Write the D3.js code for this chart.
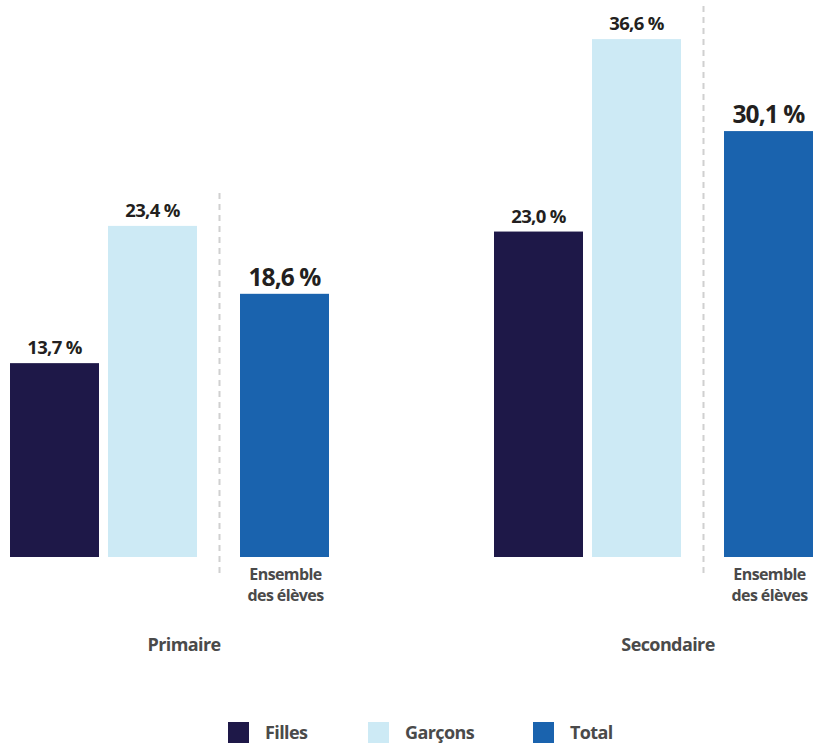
<!DOCTYPE html>
<html><head><meta charset="utf-8">
<script src="https://cdn.jsdelivr.net/npm/d3@7"></script>
<style>
html,body{margin:0;padding:0;background:#fff;}
svg{display:block;font-family:"Open Sans",sans-serif;}
</style></head>
<body><svg id="chart" width="813" height="744"></svg>
<script>
const levels = ["Primaire", "Secondaire"];
const series = ["Filles", "Garçons", "Total"];
const filles = [13.7, 23.0];
const garcons = [23.4, 36.6];
const total = [18.6, 30.1];
const totalLabel = ["Ensemble", "des élèves"];
const colors = ["#1e1848", "#cdeaf5", "#1a63ae"];

const fmt = v => d3.format(".1f")(v).replace(".", ",") + " %";

const svg = d3.select("#chart");
const baseline = 557;
const y = d3.scaleLinear().domain([0, 40]).range([baseline, baseline - 40 * 14.15]);
const xGroup = d3.scaleBand().domain(levels).range([10, 10 + 484 * 2]).paddingInner(0).paddingOuter(0);
const xSeries = d3.scaleOrdinal().domain(series).range([0, 98, 230]);
const barW = 89;
const color = d3.scaleOrdinal().domain(series).range(colors);

const data = [];
levels.forEach((l, i) => {
  data.push({level: l, s: "Filles", v: filles[i]});
  data.push({level: l, s: "Garçons", v: garcons[i]});
  data.push({level: l, s: "Total", v: total[i]});
});

// dashed separators
levels.forEach((l, i) => {
  const mx = Math.max(filles[i], garcons[i], total[i]);
  const x = xGroup(l) + 209.5;
  svg.append("line").attr("x1", x).attr("x2", x)
    .attr("y1", y(mx) - 33).attr("y2", baseline + 21)
    .attr("stroke", "#d0d0d0").attr("stroke-width", 2).attr("stroke-dasharray", "6,5");
});

svg.selectAll("rect.bar").data(data).join("rect")
  .attr("class", "bar")
  .attr("x", d => xGroup(d.level) + xSeries(d.s))
  .attr("y", d => y(d.v))
  .attr("width", barW)
  .attr("height", d => baseline - y(d.v))
  .attr("fill", d => color(d.s));

svg.selectAll("text.val").data(data).join("text")
  .attr("class", "val")
  .attr("x", d => xGroup(d.level) + xSeries(d.s) + barW / 2)
  .attr("y", d => y(d.v) - (d.s === "Total" ? 8 : 9))
  .attr("text-anchor", "middle")
  .attr("font-weight", 700)
  .attr("font-size", d => d.s === "Total" ? 24.5 : 18.5)
  .attr("letter-spacing", d => d.s === "Total" ? -0.9 : -0.7)
  .attr("fill", "#231f20")
  .text(d => fmt(d.v));

// Ensemble des élèves labels
levels.forEach(l => {
  const cx = xGroup(l) + xSeries("Total") + barW / 2 + 1;
  const t = svg.append("text").attr("text-anchor", "middle")
    .attr("font-weight", 700).attr("font-size", 16).attr("fill", "#4a4a4a")
    .attr("letter-spacing", -0.6);
  totalLabel.forEach((s, j) => t.append("tspan").attr("x", cx).attr("y", 580 + j * 21).text(s));
});

// level labels
svg.selectAll("text.level").data(levels).join("text")
  .attr("class", "level")
  .attr("x", d => xGroup(d) + 174)
  .attr("y", 651)
  .attr("text-anchor", "middle")
  .attr("font-weight", 700).attr("font-size", 18).attr("fill", "#4a4a4a")
  .attr("letter-spacing", -0.6)
  .text(d => d);

// legend
const legX = d3.scaleOrdinal().domain(series).range([228, 368, 533]);
const leg = svg.selectAll("g.leg").data(series).join("g")
  .attr("class", "leg")
  .attr("transform", d => `translate(${legX(d)},722)`);
leg.append("rect").attr("width", 21).attr("height", 21).attr("fill", d => color(d));
leg.append("text").attr("x", 37).attr("y", 17)
  .attr("font-weight", 700).attr("font-size", 18).attr("fill", "#4a4a4a")
  .attr("letter-spacing", -0.6)
  .text(d => d);
</script></body></html>
